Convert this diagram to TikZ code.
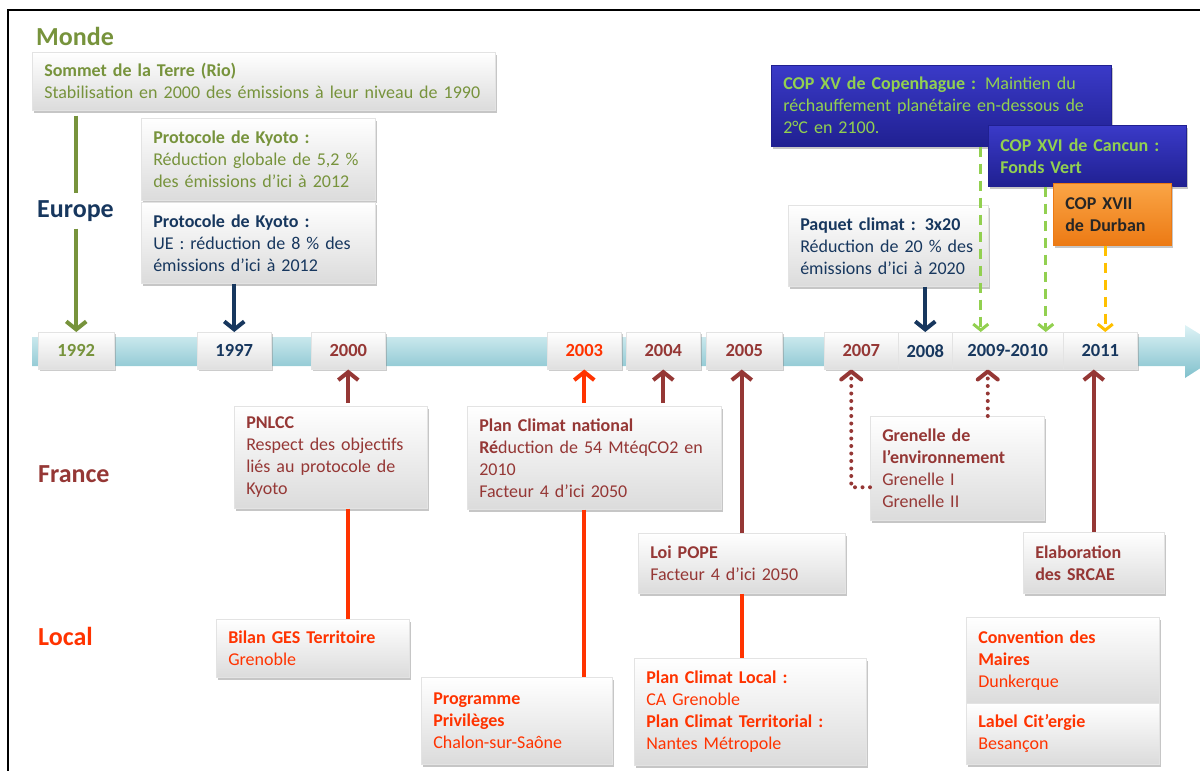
\documentclass[tikz,border=0pt]{standalone}
\usepackage{fontspec}
\setmainfont{Carlito}
\usetikzlibrary{arrows.meta,shadows}

\definecolor{mondegreen}{RGB}{119,147,60}
\definecolor{europenavy}{RGB}{23,55,94}
\definecolor{francered}{RGB}{149,55,53}
\definecolor{localorange}{RGB}{255,51,0}
\definecolor{copgreen}{RGB}{146,208,80}
\definecolor{copbluetop}{RGB}{58,58,200}
\definecolor{copbluebot}{RGB}{32,32,145}
\definecolor{durbantop}{RGB}{250,165,70}
\definecolor{durbanbot}{RGB}{236,122,20}
\definecolor{durbanyellow}{RGB}{255,192,0}
\definecolor{barhi}{RGB}{222,243,246}
\definecolor{barmid}{RGB}{176,222,230}
\definecolor{bardark}{RGB}{128,192,204}

\tikzset{
  card/.style={rectangle, anchor=north west, align=left, inner xsep=12pt, inner ysep=4pt,
    top color=white, bottom color=gray!28, draw=gray!22, line width=0.5pt,
    drop shadow={shadow xshift=2pt, shadow yshift=-2.5pt, opacity=0.45},
    font=\fontsize{18}{22}\selectfont},
  copcard/.style={card, top color=copbluetop, bottom color=copbluebot, draw=copbluebot, text=copgreen},
  yearbox/.style={rectangle, anchor=north west, inner sep=0pt, minimum height=37pt,
    top color=white, bottom color=gray!25, draw=gray!22, line width=0.5pt,
    drop shadow={shadow xshift=1.5pt, shadow yshift=-2pt, opacity=0.4},
    font=\bfseries\fontsize{18.5}{20}\selectfont},
  level/.style={anchor=west, inner sep=3pt, font=\bfseries\fontsize{26}{30}\selectfont},
  link/.style={line width=4pt},
  solidarrow/.style={line width=4pt, -{Straight Barb[length=8pt,width=20pt]}},
  dashedarrow/.style={line width=3pt, dash pattern=on 10pt off 7pt, -{Straight Barb[length=6pt,width=15pt]}},
  dotarrow/.style={line width=4pt, line cap=round, dash pattern=on 0pt off 7.5pt, -{Straight Barb[length=8pt,width=20pt,round]}}
}

\begin{document}
\begin{tikzpicture}[x=1pt,y=-1pt]
\useasboundingbox (0,0) rectangle (1200,771);
\clip (0,0) rectangle (1200,771);

%Frame
\draw [line width=2pt] (8,771) -- (8,10) -- (1200,10);

%Shape: timeline bar
\shade [top color=barhi, middle color=barmid, bottom color=bardark] (32,337) -- (1185,337) -- (1185,325) -- (1227,351) -- (1185,378) -- (1185,366) -- (32,366) -- cycle;

% Year boxes
\node [yearbox, minimum width=76pt, text=mondegreen] (y1992) at (38,332) {1992};
\node [yearbox, minimum width=74pt, text=europenavy] (y1997) at (197,332) {1997};
\node [yearbox, minimum width=74pt, text=francered] (y2000) at (311,332) {2000};
\node [yearbox, minimum width=74pt, text=localorange] (y2003) at (547,332) {2003};
\node [yearbox, minimum width=74pt, text=francered] (y2004) at (626,332) {2004};
\node [yearbox, minimum width=76pt, text=francered] (y2005) at (706,332) {2005};
\node [yearbox, minimum width=74pt, text=francered] (y2007) at (824,332) {2007};
\node [yearbox, minimum width=54pt, text=europenavy] (y2008) at (898,332) {2008};
\node [yearbox, minimum width=111pt, text=europenavy] (y2009) at (952,332) {2009-2010};
\node [yearbox, minimum width=74pt, text=europenavy] (y2011) at (1063,332) {2011};

% Text Node
\node [level, text=mondegreen] (monde) at (33,36) {Monde};
\node [level, text=europenavy] (europe) at (34,211) {Europe};
\node [level, text=francered] (france) at (35,474) {France};
\node [level, text=localorange] (local) at (35,636) {Local};

% Monde / Europe
\node [card, text=mondegreen, text width=439pt, minimum height=58pt] (sommet) at (32,52) {\textbf{Sommet de la Terre (Rio)}\\Stabilisation en 2000 des émissions à leur niveau de 1990};
\node [card, text=mondegreen, text width=210pt, minimum height=82pt] (kyotog) at (141,118) {\textbf{Protocole de Kyoto :}\\Réduction globale de 5,2 \%\\des émissions d’ici à 2012};
\node [card, text=europenavy, text width=210pt, minimum height=81pt] (kyotoue) at (141,202) {\textbf{Protocole de Kyoto :}\\UE : réduction de 8 \% des\\émissions d’ici à 2012};
\node [copcard, text width=316pt, minimum height=81pt] (copxv) at (771,65) {\textbf{COP XV de Copenhague :} Maintien du\\réchauffement planétaire en-dessous de\\2°C en 2100.};
\node [copcard, text width=174pt, minimum height=61pt] (copxvi) at (988,125) {\textbf{COP XVI de Cancun :}\\\textbf{Fonds Vert}};
\node [card, top color=durbantop, bottom color=durbanbot, draw=durbanbot, text=black!85, text width=94pt, minimum height=62pt] (copxvii) at (1053,183) {\textbf{COP XVII}\\\textbf{de Durban}};
\node [card, text=europenavy, text width=176pt, minimum height=81pt] (paquet) at (788,205) {\textbf{Paquet climat : 3x20}\\Réduction de 20 \% des\\émissions d’ici à 2020};

% France
\node [card, text=francered, text width=169pt, minimum height=102pt] (pnlcc) at (234,406) {\textbf{PNLCC}\\Respect des objectifs\\liés au protocole de\\Kyoto};
\node [card, text=francered, text width=230pt, minimum height=103pt] (plannat) at (467,406) {\textbf{Plan Climat national}\\\textbf{Ré}duction de 54 MtéqCO2 en\\2010\\Facteur 4 d’ici 2050};
\node [card, text=francered, text width=183pt, minimum height=60pt] (loipope) at (638,533) {\textbf{Loi POPE}\\Facteur 4 d’ici 2050};
\node [card, text=francered, text width=150pt, minimum height=104pt] (grenelle) at (870,416) {\textbf{Grenelle de}\\\textbf{l’environnement}\\Grenelle I\\Grenelle II};
\node [card, text=francered, text width=117pt, minimum height=61pt] (elab) at (1023,532) {\textbf{Elaboration}\\\textbf{des SRCAE}};

% Local
\node [card, text=localorange, text width=169pt, minimum height=58pt] (bilan) at (216,619) {\textbf{Bilan GES Territoire}\\Grenoble};
\node [card, text=localorange, text width=167pt, minimum height=87pt] (privileges) at (421,677) {\textbf{Programme}\\\textbf{Privilèges}\\Chalon-sur-Saône};
\node [card, text=localorange, text width=208pt, minimum height=107pt] (pclocal) at (634,658) {\textbf{Plan Climat Local :}\\CA Grenoble\\\textbf{Plan Climat Territorial :}\\Nantes Métropole};
\node [card, text=localorange, text width=169pt, minimum height=86pt] (convention) at (966,617) {\textbf{Convention des}\\\textbf{Maires}\\Dunkerque};
\node [card, text=localorange, text width=169pt, minimum height=61pt] (citergie) at (966,703) {\textbf{Label Cit’ergie}\\Besançon};

% Connectors
\coordinate (g9) at ([xshift=-20pt]y2009.south);
\coordinate (d15) at ([xshift=-27pt]y2009.north);
\coordinate (d16) at ([xshift=38pt]y2009.north);
\coordinate (d17) at ([xshift=5pt]y2011.north);

%Straight Lines
\draw [link, mondegreen, shorten <=5pt, shorten >=4pt] (sommet.south -| y1992.north) -- (europe.north -| y1992.north);
\draw [solidarrow, mondegreen, shorten <=4pt] (europe.south -| y1992.north) -- (y1992.north);
\draw [solidarrow, europenavy] (kyotoue.south -| y1997.north) -- (y1997.north);
\draw [solidarrow, europenavy] (paquet.south -| y2008.north) -- (y2008.north);
\draw [solidarrow, francered, shorten <=3pt] (pnlcc.north -| y2000.south) -- (y2000.south);
\draw [link, localorange] (pnlcc.south -| y2000.south) -- (bilan.north -| y2000.south);
\draw [solidarrow, localorange, shorten <=3pt] (plannat.north -| y2003.south) -- (y2003.south);
\draw [solidarrow, francered, shorten <=3pt] (plannat.north -| y2004.south) -- (y2004.south);
\draw [link, localorange] (plannat.south -| y2003.south) -- (privileges.north -| y2003.south);
\draw [solidarrow, francered] (loipope.north) -- (loipope.north |- y2005.south);
\draw [link, localorange] (loipope.south) -- (loipope.south |- pclocal.north);
\draw [solidarrow, francered] (elab.north) -- (elab.north |- y2011.south);
\draw [dotarrow, francered] ([yshift=-19pt]grenelle.west) -| ([xshift=-10pt]y2007.south);
\draw [dotarrow, francered] (g9 |- grenelle.north) -- (g9);
\draw [dashedarrow, copgreen] (copxv.south -| d15) -- (d15);
\draw [dashedarrow, copgreen] (copxvi.south -| d16) -- (d16);
\draw [dashedarrow, durbanyellow] (copxvii.south -| d17) -- (d17);

\end{tikzpicture}
\end{document}
